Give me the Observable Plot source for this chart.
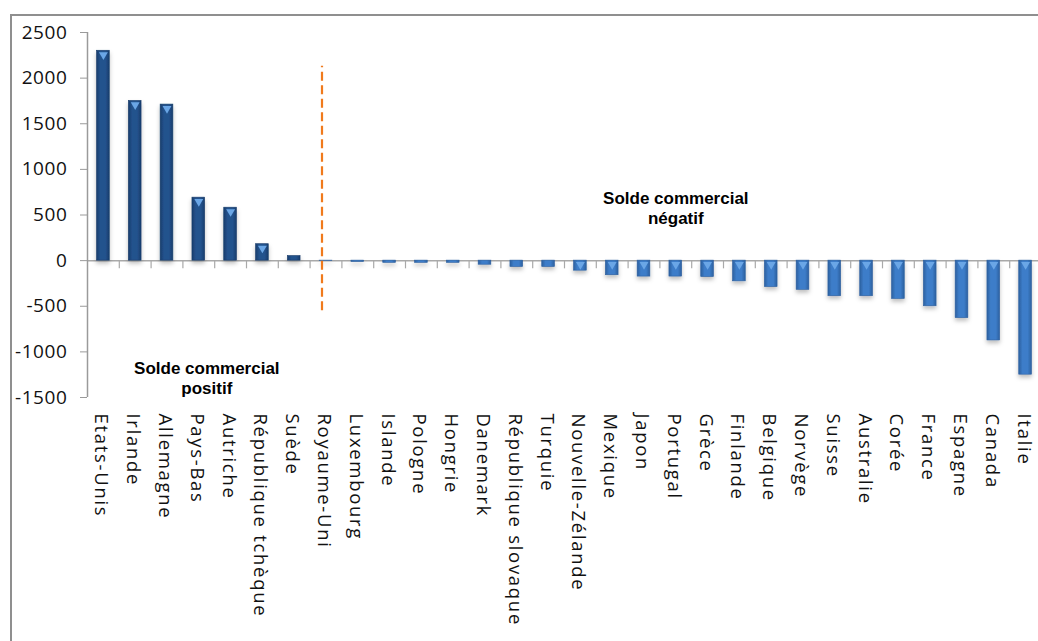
<!DOCTYPE html>
<html>
<head>
<meta charset="utf-8">
<script src="https://cdn.jsdelivr.net/npm/d3@7"></script>
<script src="https://cdn.jsdelivr.net/npm/@observablehq/plot@0.6"></script>
<style>
  html, body { margin: 0; padding: 0; background: #fff; width: 1038px; height: 641px; overflow: hidden; }
  #wrap { position: relative; width: 1038px; height: 641px; overflow: hidden; }
  #frame { position: absolute; left: 10px; top: 14px; width: 1200px; height: 800px; border-left: 2.5px solid #8f8f8f; border-top: 2.5px solid #8f8f8f; }
  #chart { position: absolute; left: 0; top: 0; }
  #chart svg [aria-label="x-axis tick label"] text { letter-spacing: 1.7px; }
  #chart svg [aria-label="y-axis tick label"] text { letter-spacing: 0.6px; }
</style>
</head>
<body>
<div id="wrap"><div id="frame"></div><div id="chart"></div></div>
<script>
const countries = ["Etats-Unis","Irlande","Allemagne","Pays-Bas","Autriche","République tchèque","Suède","Royaume-Uni","Luxembourg","Islande","Pologne","Hongrie","Danemark","République slovaque","Turquie","Nouvelle-Zélande","Mexique","Japon","Portugal","Grèce","Finlande","Belgique","Norvège","Suisse","Australie","Corée","France","Espagne","Canada","Italie"];
const values = [2300,1750,1710,690,580,180,50,-4,-15,-25,-25,-25,-45,-70,-70,-110,-160,-175,-175,-180,-227,-290,-320,-390,-390,-420,-500,-630,-875,-1250];
const yTicks = [2500,2000,1500,1000,500,0,-500,-1000,-1500];
const labelPositive = "Solde commercial\npositif";
const labelNegative = "Solde commercial\nnégatif";

const data = countries.map((c, i) => ({country: c, value: values[i]}));

const plot = Plot.plot({
  width: 1038,
  height: 641,
  marginLeft: 87,
  marginTop: 32,
  marginBottom: 244,
  marginRight: 0,
  style: {fontFamily: "'Open Sans', sans-serif", fontSize: "18px", background: "transparent", color: "#111", overflow: "visible"},
  x: {domain: countries, range: [87, 1041], round: false, paddingInner: 0.6, paddingOuter: 0.3, label: null},
  y: {domain: [-1500, 2500], label: null},
  marks: [
    Plot.ruleY([0], {stroke: "#a9a9a9", strokeWidth: 1.5}),
    Plot.ruleX(countries.slice(1), {x: d => d, dx: -15.9, y1: 0, y2: -90, stroke: "#a9a9a9", strokeWidth: 1.2}),
    Plot.ruleX(countries.slice(0, 1), {x: d => d, dx: -15.9, y1: -1500, y2: 2500, stroke: "#9a9a9a", strokeWidth: 1.5}),
    Plot.barY(data, {filter: d => d.value >= 0, x: "country", y: "value", fill: "url(#gpos)", stroke: "#183c6a", strokeWidth: 0.6}),
    Plot.barY(data, {filter: d => d.value < 0, x: "country", y: "value", fill: "url(#gneg)", stroke: "#2c5f9f", strokeWidth: 0.6}),
    Plot.dot(data, {filter: d => Math.abs(d.value) >= 100, x: "country", y: d => Math.max(d.value, 0), symbol: "triangle", rotate: 180, r: 3.3, dy: 4, fill: "#6aa6e6", stroke: "none"}),
    Plot.ruleX(["Royaume-Uni"], {x: d => d, dx: -4, y1: -550, y2: 2130, stroke: "#f07a1c", strokeWidth: 2.2, strokeDasharray: "9,4.5"}),
    Plot.text([labelPositive], {x: () => "Pays-Bas", dx: 8, y: () => -1283, text: d => d, fontFamily: "'Liberation Sans', Arial, sans-serif", fontWeight: "bold", fontSize: 17, lineHeight: 1.17, fill: "#000"}),
    Plot.text([labelNegative], {x: () => "Portugal", dx: 0, y: () => 576, text: d => d, fontFamily: "'Liberation Sans', Arial, sans-serif", fontWeight: "bold", fontSize: 17, lineHeight: 1.17, fill: "#000"}),
    Plot.axisY({ticks: yTicks, tickFormat: d => String(d), tickSize: 7, tickPadding: 13, stroke: "#9a9a9a", fill: "#111", fontSize: 19, label: null}),
    Plot.axisX({anchor: "bottom", tickSize: 0, tickPadding: 16, tickRotate: 90, dx: -2, fill: "#111", fontSize: 18.5, label: null})
  ]
});

// gradients and shadow for the bars
const svg = d3.select(plot);
const defs = svg.insert("defs", ":first-child");
function grad(id, edge, mid) {
  const g = defs.append("linearGradient").attr("id", id).attr("x1", "0").attr("x2", "1").attr("y1", "0").attr("y2", "0");
  g.append("stop").attr("offset", "0%").attr("stop-color", edge);
  g.append("stop").attr("offset", "30%").attr("stop-color", mid);
  g.append("stop").attr("offset", "70%").attr("stop-color", mid);
  g.append("stop").attr("offset", "100%").attr("stop-color", edge);
}
grad("gpos", "#183d6c", "#24528d");
grad("gneg", "#2c609f", "#3d7dc9");
const f = defs.append("filter").attr("id", "shadow").attr("x", "-50%").attr("y", "-50%").attr("width", "200%").attr("height", "200%");
f.append("feDropShadow").attr("dx", 0).attr("dy", 3).attr("stdDeviation", 2).attr("flood-color", "#000").attr("flood-opacity", 0.25);
svg.selectAll('g[aria-label="bar"]').attr("filter", "url(#shadow)");

document.getElementById("chart").appendChild(plot);
</script>
</body>
</html>
